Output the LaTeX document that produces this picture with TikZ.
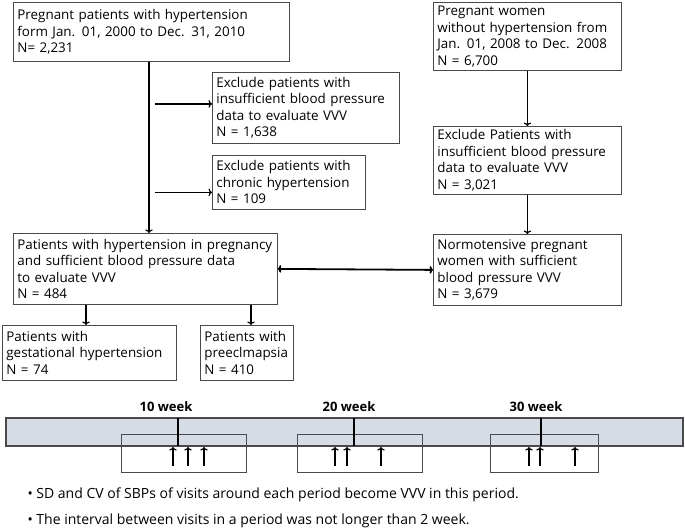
\documentclass[tikz,border=0pt]{standalone}
\usepackage{fontspec}
\setmainfont{Open Sans}
\usetikzlibrary{positioning, arrows.meta}
\definecolor{barfill}{HTML}{D6DCE5}
\definecolor{boxline}{HTML}{4A4A4A}
\tikzset{
  >={To[length=3.5pt, width=7.5pt]},
  flowbox/.style={draw=boxline, line width=0.8pt, anchor=north west, align=left,
    inner xsep=4pt, inner ysep=0pt, font=\fontsize{13.4}{16.5}\selectfont},
  flowarrow/.style={->, line width=1.2pt},
  linkarrow/.style={<->, line width=1.8pt},
  weeklabel/.style={font=\bfseries\fontsize{13}{15}\selectfont},
  windowbox/.style={draw=boxline, line width=0.8pt},
  visit/.style={->, line width=1.2pt},
  note/.style={anchor=west, font=\fontsize{14}{16}\selectfont}
}
\begin{document}
\begin{tikzpicture}[x=1pt, y=-1pt]
  \useasboundingbox (0,0) rectangle (685,530);
  % hypertension branch
  \node[flowbox, text width=268pt, minimum height=59pt] (hyper) at (13,2)
    {Pregnant patients with hypertension\\form Jan. 01, 2000 to Dec. 31, 2010\\N= 2,231};
  \node[flowbox, text width=179pt, minimum height=71pt] (excla) at (212,72)
    {Exclude patients with\\insufficient blood pressure\\data to evaluate VVV\\N = 1,638};
  \node[flowbox, text width=145pt, minimum height=54pt] (exclb) at (212,155)
    {Exclude patients with\\chronic hypertension\\N = 109};
  \node[flowbox, text width=256pt, minimum height=71pt] (hypdata) at (13,233)
    {Patients with hypertension in pregnancy\\and sufficient blood pressure data\\to evaluate VVV\\N = 484};
  \node[flowbox, text width=166pt, minimum height=55pt] (gest) at (2,325)
    {Patients with\\gestational hypertension\\N = 74};
  \node[flowbox, text width=85pt, minimum height=55pt] (preec) at (200,325)
    {Patients with\\preeclmapsia\\N = 410};
  % normotensive branch
  \node[flowbox, text width=180pt, minimum height=68pt] (nohyp) at (433,2)
    {Pregnant women\\without hypertension from\\Jan. 01, 2008 to Dec. 2008\\N = 6,700};
  \node[flowbox, text width=180pt, minimum height=68pt] (nodata) at (433,126)
    {Exclude Patients with\\insufficient blood pressure\\data to evaluate VVV\\N = 3,021};
  \node[flowbox, text width=180pt, minimum height=71pt] (normo) at (433,234)
    {Normotensive pregnant\\women with sufficient\\blood pressure VVV\\N = 3,679};

  \coordinate (trunk) at (149,0);
  \coordinate (branch) at (155,0);
  \coordinate (exclaIn) at ([yshift=4pt]excla.west);
  \coordinate (exclbIn) at ([yshift=-10pt]exclb.west);
  \coordinate (gestDrop) at (86,0);
  \coordinate (preecDrop) at (251,0);
  \draw[flowarrow] (hyper.south -| trunk) -- (hypdata.north -| trunk);
  \draw[flowarrow] (branch |- exclaIn) -- (exclaIn);
  \draw[flowarrow] (branch |- exclbIn) -- (exclbIn);
  \draw[flowarrow] (hypdata.south -| gestDrop) -- (gest.north -| gestDrop);
  \draw[flowarrow] (hypdata.south -| preecDrop) -- (preec.north -| preecDrop);
  \draw[flowarrow] (nohyp) -- (nodata);
  \draw[flowarrow] (nodata) -- (normo);
  \draw[linkarrow] (hypdata.east) -- (normo.west);

  % timeline
  \draw[fill=barfill, draw=boxline, line width=1.4pt] (6,418) rectangle (683,446);
  \draw[windowbox] (121,434) rectangle (246,472);
  \draw[windowbox] (297,434) rectangle (422,472);
  \draw[windowbox] (490,434) rectangle (598,472);
  \foreach \x/\lx/\wk in {178/166/10, 354/349/20, 541/536/30} {
    \draw[line width=2pt] (\x,418) -- (\x,446);
    \node[weeklabel] at (\lx,407) {\wk\ week};
  }
  \foreach \x in {173,188,204,335,347,381,529,540,575}
    \draw[visit] (\x,466) -- (\x,447);

  \node[note] (noteA) at (24,495)
    {• SD and CV of SBPs of visits around each period become VVV in this period.};
  \node[note] (noteB) at (24,521)
    {• The interval between visits in a period was not longer than 2 week.};
\end{tikzpicture}
\end{document}
